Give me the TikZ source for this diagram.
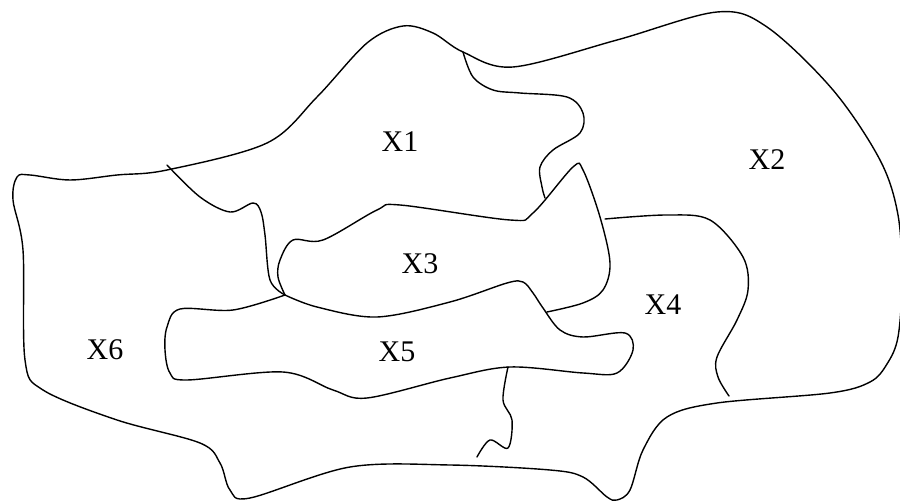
\documentclass[tikz,border=0pt]{standalone}
\usepackage{fontspec}
\setmainfont{Liberation Serif}
\begin{document}
\begin{tikzpicture}[x=1pt,y=-1pt,
  region/.style={draw=black,line width=1.4pt,line join=round,line cap=round},
  lbl/.style={font=\fontsize{30}{30}\selectfont,inner sep=0pt}]
\useasboundingbox (0,0) rectangle (900,502);
% outer boundary
\draw[region] plot[smooth cycle,tension=0.55] coordinates {
 (17,177) (30,175) (70,180) (117,175) (167,170) (267,143) (317,97) (367,43) (403,26) (433,33)
 (463,52) (513,67) (617,40) (717,12) (767,27) (833,90) (880,160) (898,215) (902,280)
 (898,337) (887,364) (870,382) (830,393) (717,403) (667,417) (643,450) (630,490) (617,500) (607,497) (583,477)
 (550,470) (450,465) (350,467) (250,498) (230,490) (220,463) (200,443) (117,420) (43,390)
 (25,360) (23,250) (13,200)};
% X6 / X1 boundary
\draw[region] plot[smooth,tension=0.55] coordinates {
 (167,165) (200,197) (230,212) (253,203) (261,212) (265,235) (270,280) (285,295)};
% X3 outline
\draw[region] plot[smooth,tension=0.55] coordinates {
 (285,295) (278,277) (280,260) (293,240) (323,240) (377,210) (400,205) (510,220) (533,213)
 (573,167) (583,170) (600,217) (610,263) (603,290) (583,303) (547,312)};
% X5 outline
\draw[region] plot[smooth,tension=0.55] coordinates {
 (285,295) (233,310) (180,309) (167,327) (165,350) (170,373) (187,380) (283,372) (333,390)
 (367,398) (450,378) (510,367) (583,373) (617,373) (633,350) (625,333) (583,337) (560,330)
 (543,308) (533,293) (523,282) (507,283) (450,302) (377,317) (317,307) (285,295)};
% X1 / X2 boundary
\draw[region] plot[smooth,tension=0.55] coordinates {
 (463,52) (473,77) (493,90) (520,93) (567,97) (583,113) (580,133) (553,150) (540,167)
 (542,187) (545,198)};
% X4 boundary
\draw[region] plot[smooth,tension=0.55] coordinates {
 (605,219) (667,215) (710,220) (743,257) (748,290) (737,320) (717,357) (718,377) (729,396)};
% squiggle
\draw[region] plot[smooth,tension=0.55] coordinates {
 (508,367) (503,400) (512,420) (508,448) (490,440) (477,457)};
\node[lbl] (x1) at (400,142) {X1};
\node[lbl] (x2) at (767,160) {X2};
\node[lbl] (x3) at (420,264) {X3};
\node[lbl] (x4) at (663,305) {X4};
\node[lbl] (x5) at (397,352) {X5};
\node[lbl] (x6) at (105,350) {X6};
\end{tikzpicture}
\end{document}
